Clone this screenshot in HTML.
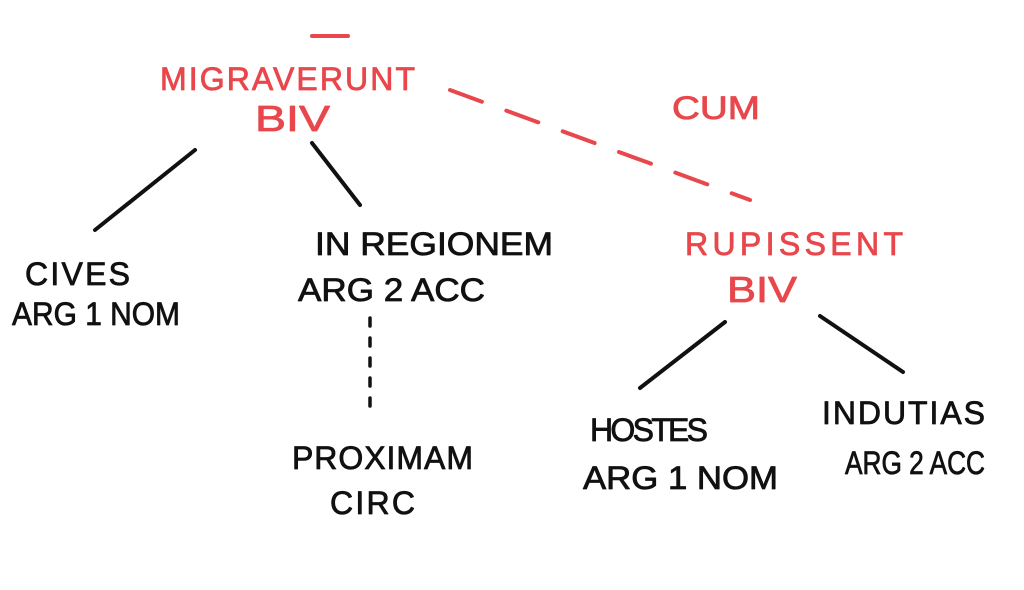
<!DOCTYPE html>
<html><head><meta charset="utf-8"><style>
html,body{margin:0;padding:0;background:#fff;width:1024px;height:590px;overflow:hidden}
text{font-family:"Liberation Sans",sans-serif;font-size:32px;stroke-width:0.8;stroke-linejoin:round}
.r{fill:#e8474c;stroke:#e8474c}
.k{fill:#111;stroke:#111}
.big{font-size:36px}
</style></head><body>
<svg width="1024" height="590" viewBox="0 0 1024 590" xmlns="http://www.w3.org/2000/svg">
<line x1="312" y1="36" x2="348" y2="36" stroke="#e8474c" stroke-width="4" stroke-linecap="round"/>
<text class="r" x="160" y="90" textLength="255" lengthAdjust="spacing">MIGRAVERUNT</text>
<text class="r big" x="255" y="131" textLength="75" lengthAdjust="spacingAndGlyphs">BIV</text>
<text class="r" x="672" y="119" textLength="88" lengthAdjust="spacingAndGlyphs">CUM</text>
<line x1="450" y1="90" x2="750" y2="200" stroke="#e8474c" stroke-width="4" stroke-dasharray="34,26" stroke-linecap="round"/>
<g stroke="#111" stroke-width="4" stroke-linecap="round">
<line x1="195" y1="150" x2="95" y2="230"/>
<line x1="312" y1="143" x2="360" y2="205"/>
<line x1="725" y1="322" x2="640" y2="388"/>
<line x1="820" y1="316" x2="903" y2="372"/>
<line x1="370" y1="318" x2="370" y2="412" stroke-dasharray="8,12" stroke-width="3.5"/>
</g>
<text class="k" x="25" y="285" textLength="105" lengthAdjust="spacing">CIVES</text>
<text class="k" x="12" y="325" textLength="168" lengthAdjust="spacingAndGlyphs">ARG 1 NOM</text>
<text class="k" x="315" y="255" textLength="238" lengthAdjust="spacingAndGlyphs">IN  REGIONEM</text>
<text class="k" x="298" y="301" textLength="187" lengthAdjust="spacingAndGlyphs">ARG 2  ACC</text>
<text class="k" x="292" y="469" textLength="181" lengthAdjust="spacing">PROXIMAM</text>
<text class="k" x="330" y="514" textLength="85" lengthAdjust="spacing">CIRC</text>
<text class="r" x="685" y="255" textLength="218" lengthAdjust="spacing">RUPISSENT</text>
<text class="r big" x="727" y="302" textLength="70" lengthAdjust="spacingAndGlyphs">BIV</text>
<text class="k" x="590" y="441" textLength="118" lengthAdjust="spacing">HOSTES</text>
<text class="k" x="583" y="489" textLength="195" lengthAdjust="spacingAndGlyphs">ARG 1  NOM</text>
<text class="k" x="822" y="424" textLength="163" lengthAdjust="spacing">INDUTIAS</text>
<text class="k" x="845" y="474" textLength="140" lengthAdjust="spacingAndGlyphs">ARG 2 ACC</text>
</svg>
</body></html>
